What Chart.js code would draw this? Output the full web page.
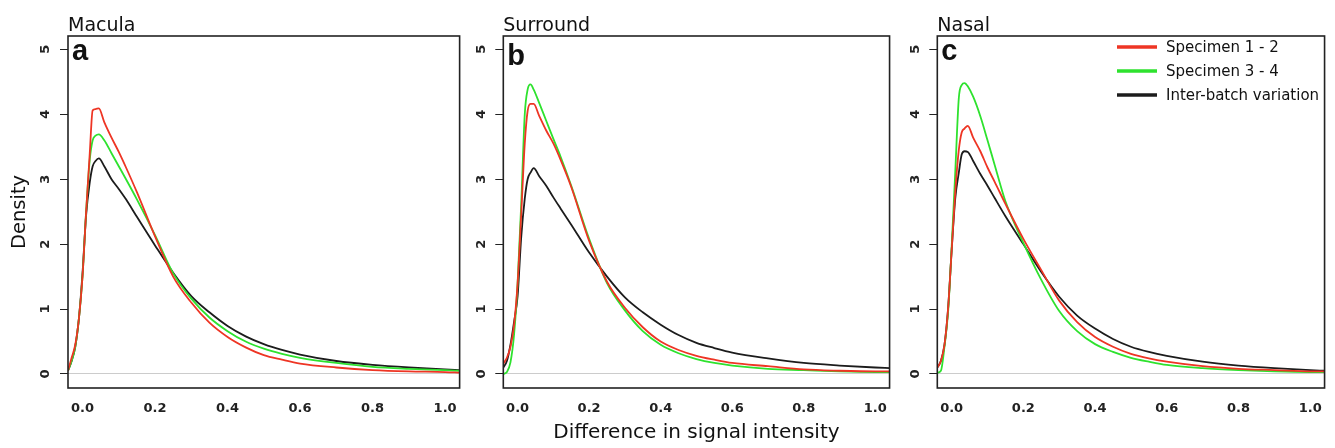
<!DOCTYPE html>
<html>
<head>
<meta charset="utf-8">
<script src="https://cdn.jsdelivr.net/npm/chart.js@4.4.1/dist/chart.umd.min.js"></script>
<style>
  html, body { margin: 0; padding: 0; background: #fff; }
  #wrap { position: relative; width: 1335px; height: 448px; overflow: hidden; }
  canvas { position: absolute; top: 0; }
</style>
</head>
<body>
<div id="wrap">
  <canvas id="panelA" width="470" height="448" style="left:0px"></canvas>
  <canvas id="panelB" width="460" height="448" style="left:440px"></canvas>
  <canvas id="panelC" width="455" height="448" style="left:880px"></canvas>
</div>
<script>
// difference in signal intensity (x) shared by all curves
const xGrid = [-0.04, -0.03, -0.02, -0.01, 0, 0.01, 0.02, 0.028, 0.036, 0.045, 0.06, 0.08, 0.1, 0.12, 0.15,
  0.2, 0.25, 0.3, 0.35, 0.4, 0.45, 0.5, 0.55, 0.6, 0.7, 0.8, 0.9, 1.0, 1.04];

// Macula
const maculaRed = [0.05, 0.25, 0.45, 0.85, 1.5, 2.5, 3.4, 4.06, 4.08, 4.09, 3.88, 3.64, 3.42, 3.18, 2.8,
  2.12, 1.5, 1.1, 0.79, 0.57, 0.41, 0.29, 0.22, 0.16, 0.1, 0.06, 0.04, 0.03, 0.02];
const maculaGreen = [0.05, 0.2, 0.42, 0.85, 1.5, 2.5, 3.3, 3.6, 3.67, 3.69, 3.6, 3.4, 3.2, 3.0, 2.69,
  2.14, 1.55, 1.16, 0.87, 0.66, 0.5, 0.39, 0.31, 0.25, 0.17, 0.11, 0.08, 0.06, 0.05];
const maculaBlack = [0.05, 0.2, 0.42, 0.85, 1.55, 2.45, 2.95, 3.2, 3.28, 3.32, 3.2, 3.0, 2.85, 2.69, 2.42,
  1.98, 1.56, 1.2, 0.95, 0.74, 0.58, 0.46, 0.37, 0.3, 0.2, 0.14, 0.1, 0.07, 0.06];

// Surround
const surroundRed = [0.16, 0.25, 0.42, 0.75, 1.4, 2.45, 3.55, 4.05, 4.16, 4.16, 3.98, 3.75, 3.55, 3.3, 2.88,
  2.05, 1.42, 1.02, 0.72, 0.5, 0.37, 0.28, 0.22, 0.17, 0.12, 0.07, 0.05, 0.04, 0.04];
const surroundGreen = [0.0, 0.03, 0.18, 0.6, 1.4, 2.6, 4.0, 4.38, 4.46, 4.38, 4.18, 3.9, 3.62, 3.35, 2.9,
  2.08, 1.4, 0.98, 0.66, 0.45, 0.32, 0.23, 0.17, 0.13, 0.08, 0.06, 0.04, 0.03, 0.03];
const surroundBlack = [0.1, 0.2, 0.45, 0.8, 1.2, 2.1, 2.7, 3.0, 3.1, 3.17, 3.05, 2.9, 2.72, 2.55, 2.3,
  1.87, 1.5, 1.18, 0.95, 0.76, 0.6, 0.48, 0.4, 0.33, 0.24, 0.17, 0.13, 0.1, 0.09];

// Nasal
const nasalRed = [0.1, 0.2, 0.45, 1.0, 1.9, 2.8, 3.45, 3.72, 3.78, 3.82, 3.64, 3.43, 3.18, 2.96, 2.62,
  2.08, 1.6, 1.13, 0.8, 0.57, 0.42, 0.31, 0.24, 0.19, 0.12, 0.08, 0.06, 0.04, 0.04];
const nasalGreen = [0.02, 0.05, 0.42, 0.95, 1.95, 3.1, 4.25, 4.45, 4.48, 4.43, 4.27, 3.97, 3.6, 3.22, 2.66,
  2.02, 1.45, 0.97, 0.66, 0.46, 0.34, 0.25, 0.19, 0.14, 0.09, 0.06, 0.04, 0.03, 0.03];
const nasalBlack = [0.1, 0.2, 0.45, 1.0, 1.9, 2.7, 3.1, 3.38, 3.43, 3.42, 3.28, 3.08, 2.9, 2.71, 2.43,
  2.0, 1.57, 1.19, 0.9, 0.7, 0.54, 0.42, 0.34, 0.28, 0.19, 0.13, 0.09, 0.06, 0.05];

const seriesLabels = ['Specimen 1 - 2', 'Specimen 3 - 4', 'Inter-batch variation'];
const seriesColors = ['#ee3524', '#2ee22e', '#1c1c1c'];
const xTicks = [0, 0.2, 0.4, 0.6, 0.8, 1.0];
const yTicks = [0, 1, 2, 3, 4, 5];

const FONT = '"DejaVu Sans", Verdana, sans-serif';

// box, panel title, panel letter and (optionally) legend
const framePlugin = {
  id: 'frame',
  afterDraw(chart, args, opts) {
    const { ctx, chartArea: a } = chart;
    ctx.save();
    ctx.strokeStyle = '#222';
    ctx.lineWidth = 1.6;
    ctx.strokeRect(a.left, a.top, a.right - a.left, a.bottom - a.top);

    ctx.fillStyle = '#111';
    ctx.textAlign = 'left';
    ctx.textBaseline = 'alphabetic';
    ctx.font = '19px ' + FONT;
    ctx.fillText(opts.title, a.left, 30.5);

    ctx.font = 'bold 29px "Liberation Sans", Arial, sans-serif';
    ctx.fillText(opts.letter, a.left + 4, opts.letterY);

    if (opts.legend) {
      ctx.font = '15px ' + FONT;
      ctx.textBaseline = 'middle';
      chart.data.datasets.forEach((ds, i) => {
        const y = 47 + i * 24;
        ctx.strokeStyle = ds.borderColor;
        ctx.lineWidth = 3.5;
        ctx.beginPath();
        ctx.moveTo(1117 - 880, y);
        ctx.lineTo(1157 - 880, y);
        ctx.stroke();
        ctx.fillStyle = '#111';
        ctx.fillText(ds.label, 1166 - 880, y + 1);
      });
    }
    ctx.restore();
  }
};

function makePanel(id, series, p) {
  const datasets = series.map((vals, i) => ({
    label: seriesLabels[i],
    data: xGrid.map((x, j) => ({ x: x, y: vals[j] })),
    borderColor: seriesColors[i],
    borderWidth: 1.8,
    pointRadius: 0,
    cubicInterpolationMode: 'monotone',
    fill: false
  }));

  return new Chart(document.getElementById(id), {
    type: 'line',
    data: { datasets },
    plugins: [framePlugin],
    options: {
      responsive: false,
      animation: false,
      events: [],
      layout: { padding: { top: 36, right: p.padRight, left: 0, bottom: 0 } },
      plugins: {
        legend: { display: false },
        tooltip: { enabled: false },
        frame: { title: p.title, letter: p.letter, letterY: p.letterY, legend: p.legend }
      },
      scales: {
        x: {
          type: 'linear',
          min: -0.04,
          max: 1.04,
          afterBuildTicks: (axis) => { axis.ticks = xTicks.map(v => ({ value: v })); },
          afterFit: (axis) => { axis.height = 60; },
          border: { display: false },
          grid: { display: false, drawTicks: false },
          ticks: {
            autoSkip: false, minRotation: 0, maxRotation: 0, padding: 13,
            color: '#222',
            font: { family: FONT, size: 13, weight: 'bold' },
            callback: (v) => v.toFixed(1)
          },
          title: {
            display: !!p.xTitle,
            text: p.xTitle || '',
            color: '#111',
            font: { family: FONT, size: 20 },
            padding: { top: 0, bottom: 3 }
          }
        },
        y: {
          min: -0.2156,
          max: 5.205,
          afterBuildTicks: (axis) => { axis.ticks = yTicks.map(v => ({ value: v })); },
          afterFit: (axis) => { axis.width = p.yWidth; },
          border: { display: false },
          grid: {
            drawOnChartArea: true,
            color: (c) => (c.tick && c.tick.value === 0 ? '#cccccc' : 'rgba(0,0,0,0)'),
            tickColor: '#222',
            tickLength: 8,
            lineWidth: 1
          },
          ticks: {
            autoSkip: false, minRotation: 90, maxRotation: 90, padding: 9.5,
            crossAlign: 'center',
            color: '#222',
            font: { family: FONT, size: 13, weight: 'bold' },
            callback: (v) => String(v)
          },
          title: {
            display: !!p.yTitle,
            text: p.yTitle || '',
            color: '#111',
            font: { family: FONT, size: 19.5 },
            padding: { top: 7.8, bottom: 0 }
          }
        }
      }
    }
  });
}

makePanel('panelA', [maculaRed, maculaGreen, maculaBlack],
  { title: 'Macula', letter: 'a', letterY: 60, yWidth: 68, padRight: 10, yTitle: 'Density' });
makePanel('panelB', [surroundRed, surroundGreen, surroundBlack],
  { title: 'Surround', letter: 'b', letterY: 65, yWidth: 63.3, padRight: 6, xTitle: 'Difference in signal intensity' });
makePanel('panelC', [nasalRed, nasalGreen, nasalBlack],
  { title: 'Nasal', letter: 'c', letterY: 60, yWidth: 57.3, padRight: 7, legend: true });
</script>
</body>
</html>
